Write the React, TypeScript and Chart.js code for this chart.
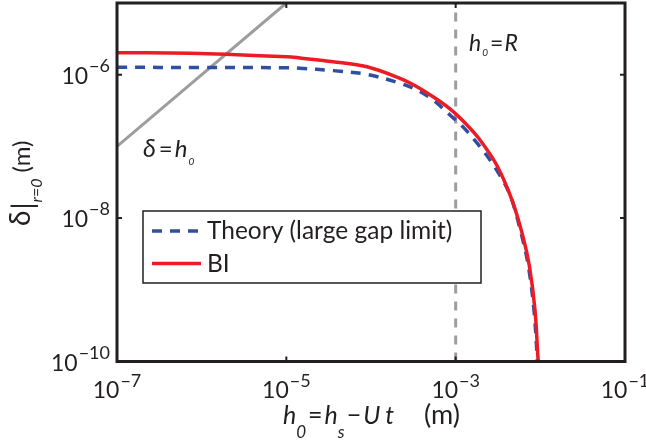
import { useEffect, useRef } from "react";
import { Chart, registerables } from "chart.js";

Chart.register(...registerables);

// Axis ranges (metres)
const X_MIN = 1e-7;
const X_MAX = 1e-1;
const Y_MIN = 1e-10;
const Y_MAX = 1e-5;

// Major ticks and their exponent labels
const xTickValues = [1e-7, 1e-5, 1e-3, 1e-1];
const xTickExps = ["\u22127", "\u22125", "\u22123", "\u22121"];
const yTickValues = [1e-10, 1e-8, 1e-6];
const yTickExps = ["\u221210", "\u22128", "\u22126"];

// Theory (large gap limit): gap h0 vs central deflection
const theoryH = [
  1e-7, 9.55e-7, 1.02e-5, 1.45e-5, 3.56e-5, 8.97e-5, 2.2e-4, 3.49e-4, 5.4e-4, 8.57e-4,
  1.22e-3, 1.94e-3, 3.05e-3, 4.39e-3, 6.07e-3, 7.24e-3, 8.41e-3, 9.25e-3,
];
const theoryDelta = [
  1.27e-6, 1.26e-6, 1.25e-6, 1.23e-6, 1.14e-6, 1.01e-6, 7.59e-7, 6.12e-7, 4.44e-7, 2.74e-7,
  1.87e-7, 9.91e-8, 4.69e-8, 2.1e-8, 5.51e-9, 2.1e-9, 5.22e-10, 1e-10,
];

// Boundary-integral (BI) computation
const biH = [
  1e-7, 9.55e-7, 1.02e-5, 1.45e-5, 3.56e-5, 8.97e-5, 2.2e-4, 3.49e-4, 5.4e-4, 8.57e-4,
  1.36e-3, 1.94e-3, 3.05e-3, 4.62e-3, 6.24e-3, 7.45e-3, 8.65e-3, 9.38e-3, 9.51e-3,
];
const biDelta = [
  2.03e-6, 1.98e-6, 1.78e-6, 1.71e-6, 1.52e-6, 1.29e-6, 8.91e-7, 6.81e-7, 4.93e-7, 3.33e-7,
  1.99e-7, 1.23e-7, 5.51e-8, 1.79e-8, 5.51e-9, 2.1e-9, 5.22e-10, 1.12e-10, 1e-10,
];

// Reference line delta = h0
const equalH = [1e-7, 1e-5];
const equalDelta = [1e-7, 1e-5];

// Reference line h0 = R
const radiusH = [1e-3, 1e-3];
const radiusDelta = [1e-10, 1e-5];

// Annotation anchors (data coordinates)
const equalLabelAt = { x: 2.03e-7, y: 7.1e-8 };
const radiusLabelAt = { x: 1.44e-3, y: 2.14e-6 };

const FONT = "Lato, 'Open Sans', sans-serif";
const INK = "#231f20";

type Part = { t: string; size: number; italic?: boolean; dy?: number; dx?: number };

function fontOf(p: Part) {
  return `${p.italic ? "italic " : ""}${p.size}px ${FONT}`;
}

function drawRich(
  ctx: CanvasRenderingContext2D,
  parts: Part[],
  x: number,
  y: number,
  align: "left" | "center" | "right"
) {
  ctx.textAlign = "left";
  ctx.textBaseline = "alphabetic";
  const widths = parts.map((p) => {
    ctx.font = fontOf(p);
    return ctx.measureText(p.t).width + (p.dx || 0);
  });
  const total = widths.reduce((a, b) => a + b, 0);
  let cx = align === "left" ? x : align === "center" ? x - total / 2 : x - total;
  parts.forEach((p, i) => {
    ctx.font = fontOf(p);
    ctx.fillText(p.t, cx + (p.dx || 0), y + (p.dy || 0));
    cx += widths[i];
  });
}

const decorations = {
  id: "decorations",
  beforeDraw(chart: any) {
    const { ctx, width, height } = chart;
    ctx.save();
    ctx.fillStyle = "#ffffff";
    ctx.fillRect(0, 0, width, height);
    ctx.restore();
  },
  afterDatasetsDraw(chart: any) {
    const { ctx, chartArea: a, scales } = chart;
    const xs = scales.x;
    const ys = scales.y;
    ctx.save();
    ctx.fillStyle = INK;
    ctx.strokeStyle = INK;

    // axes box
    ctx.lineWidth = 3;
    ctx.strokeRect(a.left, a.top, a.right - a.left, a.bottom - a.top);

    // inward tick marks on all four sides
    const tl = 5;
    ctx.lineWidth = 2;
    ctx.beginPath();
    xTickValues.forEach((v) => {
      const px = xs.getPixelForValue(v);
      ctx.moveTo(px, a.bottom);
      ctx.lineTo(px, a.bottom - tl);
      ctx.moveTo(px, a.top);
      ctx.lineTo(px, a.top + tl);
    });
    yTickValues.forEach((v) => {
      const py = ys.getPixelForValue(v);
      ctx.moveTo(a.left, py);
      ctx.lineTo(a.left + tl, py);
      ctx.moveTo(a.right, py);
      ctx.lineTo(a.right - tl, py);
    });
    ctx.stroke();

    // tick labels: 10 with superscript exponent
    xTickValues.forEach((v, i) => {
      const px = xs.getPixelForValue(v);
      drawRich(
        ctx,
        [
          { t: "10", size: 23 },
          { t: xTickExps[i], size: 18, dy: -11, dx: 1 },
        ],
        px,
        a.bottom + 36,
        "center"
      );
    });
    yTickValues.forEach((v, i) => {
      const py = ys.getPixelForValue(v);
      drawRich(
        ctx,
        [
          { t: "10", size: 23 },
          { t: yTickExps[i], size: 18, dy: -12, dx: 1 },
        ],
        a.left - 7,
        py + 9,
        "right"
      );
    });

    // x axis title
    drawRich(
      ctx,
      [
        { t: "h", size: 25, italic: true },
        { t: "0", size: 17, italic: true, dy: 14 },
        { t: "=", size: 25, dx: 2 },
        { t: "h", size: 25, italic: true, dx: 2 },
        { t: "s", size: 17, italic: true, dy: 14 },
        { t: "\u2212", size: 25, dx: 2 },
        { t: "U", size: 25, italic: true, dx: 2 },
        { t: "t", size: 25, italic: true, dx: 5 },
        { t: "(m)", size: 27, dx: 30 },
      ],
      a.left + 166,
      a.bottom + 62,
      "left"
    );

    // y axis title (rotated)
    ctx.save();
    ctx.translate(30, (a.top + a.bottom) / 2 + 1);
    ctx.rotate(-Math.PI / 2);
    drawRich(
      ctx,
      [
        { t: "\u03b4", size: 28 },
        { t: "|", size: 28, dy: 3, dx: 1 },
        { t: "r=0", size: 16, italic: true, dy: 12 },
        { t: "(m)", size: 24, dx: 6 },
      ],
      0,
      0,
      "center"
    );
    ctx.restore();

    // annotations
    drawRich(
      ctx,
      [
        { t: "\u03b4", size: 25, italic: true },
        { t: "=", size: 24, dx: 3 },
        { t: "h", size: 24, italic: true, dx: 2 },
        { t: "0", size: 10, italic: true, dy: 8, dx: 1 },
      ],
      xs.getPixelForValue(equalLabelAt.x),
      ys.getPixelForValue(equalLabelAt.y),
      "left"
    );
    drawRich(
      ctx,
      [
        { t: "h", size: 23, italic: true },
        { t: "0", size: 10, italic: true, dy: 5, dx: 1 },
        { t: "=", size: 23, dx: 2 },
        { t: "R", size: 23, italic: true, dx: 1 },
      ],
      xs.getPixelForValue(radiusLabelAt.x),
      ys.getPixelForValue(radiusLabelAt.y),
      "left"
    );

    // legend box
    const lx = 143;
    const ly = 211;
    const lw = 338;
    const lh = 72;
    ctx.fillStyle = "#ffffff";
    ctx.fillRect(lx, ly, lw, lh);
    ctx.lineWidth = 1.5;
    ctx.strokeStyle = INK;
    ctx.strokeRect(lx, ly, lw, lh);
    const entries = [chart.data.datasets[0], chart.data.datasets[1]];
    entries.forEach((ds: any, i: number) => {
      const yMid = ly + 20 + i * 32.5;
      ctx.save();
      ctx.strokeStyle = ds.borderColor;
      ctx.lineWidth = ds.borderWidth;
      ctx.setLineDash(ds.borderDash || []);
      ctx.beginPath();
      ctx.moveTo(lx + 9, yMid);
      ctx.lineTo(lx + 58, yMid);
      ctx.stroke();
      ctx.restore();
      ctx.fillStyle = INK;
      ctx.font = `24.5px ${FONT}`;
      ctx.textAlign = "left";
      ctx.textBaseline = "alphabetic";
      ctx.fillText(ds.label, lx + 64, yMid + 8);
    });

    ctx.restore();
  },
};

export default function App() {
  const canvasRef = useRef<HTMLCanvasElement | null>(null);

  useEffect(() => {
    const canvas = canvasRef.current;
    if (!canvas) return;
    const pts = (xs: number[], ys: number[]) => xs.map((x, i) => ({ x, y: ys[i] }));
    const chart = new Chart(canvas, {
      type: "line",
      data: {
        datasets: [
          {
            label: "Theory (large gap limit)",
            data: pts(theoryH, theoryDelta),
            borderColor: "#2f4fa2",
            borderWidth: 3.5,
            borderDash: [10, 8],
            pointRadius: 0,
            tension: 0.35,
            order: 1,
          },
          {
            label: "BI",
            data: pts(biH, biDelta),
            borderColor: "#ed1c24",
            borderWidth: 3.5,
            pointRadius: 0,
            tension: 0.35,
            order: 0,
          },
          {
            label: "delta = h0",
            data: pts(equalH, equalDelta),
            borderColor: "#9d9d9d",
            borderWidth: 3,
            pointRadius: 0,
            order: 2,
          },
          {
            label: "h0 = R",
            data: pts(radiusH, radiusDelta),
            borderColor: "#9d9d9d",
            borderWidth: 3,
            borderDash: [9, 8],
            pointRadius: 0,
            order: 3,
          },
        ],
      },
      options: {
        responsive: false,
        animation: false,
        devicePixelRatio: 1,
        layout: { padding: { left: 117, top: 3, right: 21, bottom: 81.5 } },
        plugins: {
          legend: { display: false },
          tooltip: { enabled: false },
        },
        scales: {
          x: { type: "logarithmic", min: X_MIN, max: X_MAX, display: false },
          y: { type: "logarithmic", min: Y_MIN, max: Y_MAX, display: false },
        },
      },
      plugins: [decorations],
    });
    return () => chart.destroy();
  }, []);

  return (
    <div style={{ position: "fixed", left: 0, top: 0, width: 646, height: 443, background: "#fff" }}>
      <canvas ref={canvasRef} width={646} height={443} style={{ display: "block" }} />
    </div>
  );
}
